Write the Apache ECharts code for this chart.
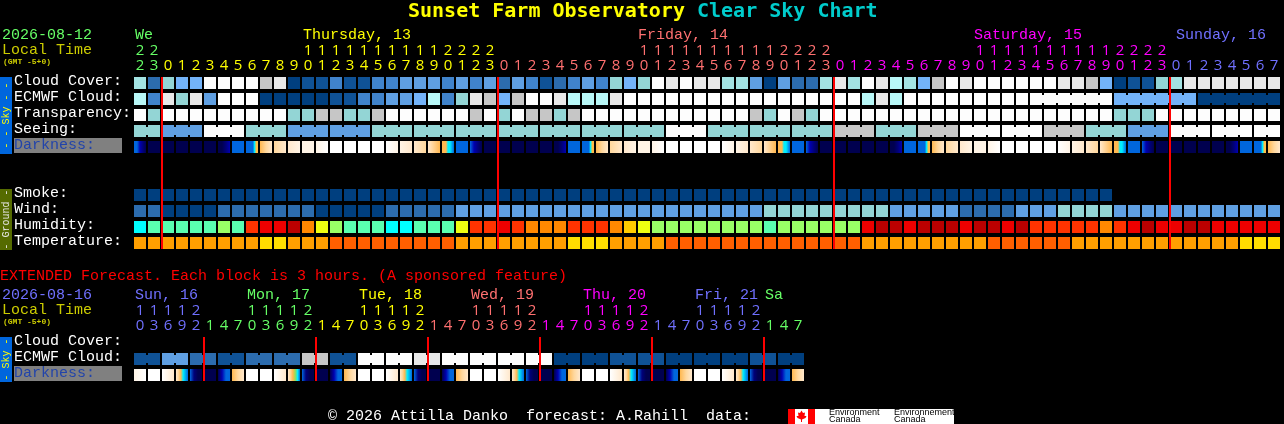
<!DOCTYPE html>
<html><head><meta charset="utf-8">
<style>html,body{margin:0;padding:0;background:#000;overflow:hidden}#c{width:1284px;height:424px}</style>
<script src="https://cdn.jsdelivr.net/npm/echarts@6/dist/echarts.min.js"></script>
</head><body><div id="c"></div>
<script>
// ---------- tick labels ----------
const hours = [22,23,0,1,2,3,4,5,6,7,8,9,10,11,12,13,14,15,16,17,18,19,20,21,22,23,0,1,2,3,4,5,6,7,8,9,10,11,12,13,14,15,16,17,18,19,20,21,22,23,0,1,2,3,4,5,6,7,8,9,10,11,12,13,14,15,16,17,18,19,20,21,22,23,0,1,2,3,4,5,6,7];
const hourDayIdx = [0,0,1,1,1,1,1,1,1,1,1,1,1,1,1,1,1,1,1,1,1,1,1,1,1,1,2,2,2,2,2,2,2,2,2,2,2,2,2,2,2,2,2,2,2,2,2,2,2,2,3,3,3,3,3,3,3,3,3,3,3,3,3,3,3,3,3,3,3,3,3,3,3,3,4,4,4,4,4,4,4,4];
const extHours = [10,13,16,19,22,1,4,7,10,13,16,19,22,1,4,7,10,13,16,19,22,1,4,7,10,13,16,19,22,1,4,7,10,13,16,19,22,1,4,7,10,13,16,19,22,1,4,7];
const extDayIdx = [4,4,4,4,4,0,0,0,0,0,0,0,0,1,1,1,1,1,1,1,1,2,2,2,2,2,2,2,2,3,3,3,3,3,3,3,3,4,4,4,4,4,4,4,4,0,0,0];
const dayColors = ['#66ff66','#ffff00','#ff7070','#ff00ff','#7070ff'];
const rowNames = ['Cloud Cover:','ECMWF Cloud:','Transparency:','Seeing:','Darkness:','','','Smoke:','Wind:','Humidity:','Temperature:'];
const extRowNames = ['Cloud Cover:','ECMWF Cloud:','Darkness:'];
const dayNames = ['We','Thursday, 13','Friday, 14','Saturday, 15','Sunday, 16'];
const extDayNames = ['Sun, 16','Mon, 17','Tue, 18','Wed, 19','Thu, 20','Fri, 21','Sa'];
const midnightCols = [2,26,50,74];
const extMidnightCols = [5,13,21,29,37,45];

// ---------- colour scales ----------
const skyScale = ['#003f7f','#0f5296','#2c6cae','#4083cb','#5f9fe2','#73b3f9','#93d5d5','#a3e3e3','#b8f8f8','#c6c6c6','#e8e8e8','#fdfdfd'];
const humidScale = ['#00ffff','#5affb0','#99ff66','#eeff11','#ffcc00','#ff8800','#ff3300','#ee0000','#bb0000'];
const tempScale = ['#ff5f00','#ff9f00','#ffdd00'];
const darkScale = ['#00004f','#00007a','#0000b0','#0040c8','#0066dd','#00aaee','#00eeff','#99dd55','#ffc040','#ffb850','#ffd79c','#ffe8cc','#fff4e6','#ffffff'];

// ---------- series values ----------
const cloudCover = [7,2,6,5,5,11,11,11,11,9,10,0,1,1,3,1,1,3,3,4,4,4,3,4,3,4,2,4,3,1,2,3,4,3,6,5,6,11,10,11,10,10,7,7,4,0,4,2,2,7,10,7,11,10,8,7,5,9,11,10,11,11,11,11,11,11,10,10,9,5,0,1,1,6,7,10,10,10,10,10,10,10];
const ecmwfCloud = [8,3,10,6,10,4,11,11,11,0,0,0,0,0,1,1,3,3,4,4,5,8,3,6,10,9,5,9,11,11,10,8,8,8,10,11,11,11,11,11,11,11,11,11,11,11,11,11,11,11,11,11,8,10,8,11,11,11,11,11,11,11,11,11,11,11,11,11,11,11,5,5,5,5,5,5,0,0,0,0,0,0];
const transparency = [11,6,11,11,11,11,11,11,11,11,11,6,6,9,9,6,6,9,11,11,11,11,11,11,9,11,6,11,9,9,6,9,11,11,11,11,11,11,11,11,11,11,11,11,9,6,11,9,6,11,11,11,11,11,11,11,11,11,11,11,11,11,11,11,11,11,11,11,11,11,6,6,6,11,11,11,11,11,11,11,11,11];
const seeing = [6,6,4,4,4,11,11,11,6,6,6,4,4,4,4,4,4,6,6,6,6,6,6,6,6,6,6,6,6,6,6,6,6,6,6,6,6,6,11,11,11,6,6,6,6,6,6,6,6,6,9,9,9,6,6,6,9,9,9,11,11,11,11,11,11,9,9,9,6,6,6,4,4,4,11,11,11,11,11,11,11,11];
const darkness = [
 '44210','0',
 '0','0','0','0','0012','4','44444689','9ab','ab','bc','c','cd','d','d','d','d','dc','cb','ba','b9','9996654','4','4210','0',
 '0','0','0','0','0012','4','44444689','9ab','ab','bc','c','cd','d','d','d','d','dc','cb','ba','b9','9996654','4','4210','0',
 '0','0','0','0','0012','4','44444689','9ab','ab','bc','c','cd','d','d','d','d','dc','cb','ba','b9','9996654','4','4210','0',
 '0','0','0','0','0012','4','44444689','9ab'];
const smoke = [0,0,0,0,0,0,0,0,0,0,0,0,0,0,0,0,0,0,0,0,0,0,0,0,0,0,0,0,0,0,0,0,0,0,0,0,0,0,0,0,0,0,0,0,0,0,0,0,0,0,0,0,0,0,0,0,0,0,0,0,0,0,0,0,0,0,0,0,0,0,null,null,null,null,null,null,null,null,null,null,null,null];
const wind = [2,2,0,0,0,0,2,2,2,2,2,2,2,0,0,0,0,0,2,2,2,2,2,4,4,4,4,4,4,4,4,4,4,4,4,4,4,4,4,4,4,4,4,4,4,6,6,6,6,6,6,6,6,6,4,4,4,4,4,2,2,2,2,4,4,4,6,6,6,6,4,4,4,4,4,4,4,4,4,4,4,4];
const humidity = [0,1,1,1,1,1,2,1,6,7,7,8,5,3,2,1,1,1,0,0,1,1,1,3,6,6,7,6,5,5,5,6,6,6,5,4,3,2,2,2,2,2,2,2,2,1,2,2,2,2,2,2,7,8,8,7,8,8,8,7,8,8,7,8,6,6,6,6,6,5,6,7,8,7,7,8,8,7,7,7,7,7];
const temperature = [1,1,1,1,1,1,1,1,1,2,2,1,1,1,0,0,0,0,0,0,0,0,0,1,1,1,1,1,1,1,1,2,2,2,1,1,1,1,0,0,0,0,0,0,0,0,0,0,0,0,0,0,1,1,1,1,1,1,1,1,1,0,0,0,0,0,0,1,1,1,1,1,1,1,1,1,1,1,1,2,2,2];
const extEcmwf = [1,1,4,4,2,2,1,1,2,2,2,2,9,9,1,1,11,11,11,11,10,10,11,11,11,11,11,11,11,11,0,0,0,0,1,1,1,1,0,0,0,0,0,0,1,1,0,0];
const extDarkness = [
 'cd','d','dcb','ba9654','4100','0','0244','9ab',
 'd','d','dcb','ba9764','4100','0','0244','9ab',
 'd','d','dcb','ba9654','4100','0','0244','9ab',
 'd','d','dcb','ba9654','4100','0','0244','9ab',
 'd','d','dcb','ba9654','4100','0','0244','9ab',
 'd','d','dcb','ba9654','4100','0','0244','9ab'];

// ---------- drawing helpers ----------
const MONO = '"Liberation Mono","DejaVu Sans Mono",monospace';
const NUM = '"Open Sans","Liberation Sans",sans-serif';
const SANS = '"Liberation Sans",sans-serif';

function cellGeom(api, col, row){
  const c = api.coord([col,row]);
  const s = api.size([1,1]);
  const w = s[0]-2, h = s[1]-4;
  return {x:c[0]-w/2, y:c[1]-h/2, w, h, gap:2, notch:2};
}
function rowSeries(gridIdx, name, row, values, scale, joinNext){
  return {
    type:'custom', name, xAxisIndex:gridIdx===0?0:3, yAxisIndex:gridIdx, coordinateSystem:'cartesian2d',
    silent:true, clip:false, z:2, encode:{x:0,y:1},
    data: values.map((v,i)=>[i,row]),
    renderItem(params, api){
      const i = params.dataIndex, v = values[i];
      if(v===null) return null;
      const g = cellGeom(api, i, row);
      const fill = scale[v];
      const kids = [{type:'rect',shape:{x:g.x,y:g.y,width:g.w,height:g.h},style:{fill},silent:true}];
      if(joinNext && joinNext(i) && i<values.length-1)
        kids.push({type:'rect',shape:{x:g.x+g.w,y:g.y+g.notch,width:g.gap,height:g.h-2*g.notch},style:{fill},silent:true});
      return {type:'group',children:kids};
    }
  };
}
function darkSeries(gridIdx, row, values){
  return {
    type:'custom', name:'Darkness', xAxisIndex:gridIdx===0?0:3, yAxisIndex:gridIdx, silent:true, clip:false, z:2,
    encode:{x:0,y:1}, data: values.map((v,i)=>[i,row]),
    renderItem(params, api){
      const s = values[params.dataIndex];
      const g = cellGeom(api, params.dataIndex, row);
      const cols = s.split('').map(ch=>darkScale[parseInt(ch,16)]);
      const fill = cols.length===1 ? cols[0] : new echarts.graphic.LinearGradient(0,0,1,0,
        cols.map((color,k)=>({offset:k/(cols.length-1),color})));
      return {type:'rect',shape:{x:g.x,y:g.y,width:g.w,height:g.h},style:{fill},silent:true};
    }
  };
}
function redLines(gridIdx, cols, firstRow, lastRow){
  return {
    type:'custom', name:'Midnight', xAxisIndex:gridIdx===0?0:3, yAxisIndex:gridIdx, silent:true, clip:false, z:5,
    encode:{x:0,y:1}, data: cols.map(c=>[c,firstRow]),
    renderItem(params, api){
      const c = cols[params.dataIndex];
      const a = cellGeom(api,c,firstRow), b = cellGeom(api,c,lastRow);
      return {type:'rect',shape:{x:a.x-1,y:a.y,width:2,height:b.y+b.h-a.y},style:{fill:'#ff0000'},silent:true};
    }
  };
}
function topAxis(gridIndex, labels, colors, margin){
  return {type:'category',gridIndex,position:'top',data:labels,boundaryGap:true,
    axisLine:{show:false},axisTick:{show:false},splitLine:{show:false},
    axisLabel:{show:true,interval:0,margin,fontFamily:NUM,fontSize:15,hideOverlap:false,
      color:(v,i)=>dayColors[colors[i]]}};
}
function leftAxis(gridIndex, names){
  return {type:'category',gridIndex,inverse:true,data:names,boundaryGap:true,
    axisLine:{show:false},axisTick:{show:false},splitLine:{show:false},
    axisLabel:{show:true,interval:0,margin:119,align:'left',fontFamily:MONO,fontSize:15,color:'#ffffff',
      padding:[0,0,3,0],
      formatter:v=>v==='Darkness:'?'{d|Darkness:}':v,
      rich:{d:{color:'#2244aa',backgroundColor:'#808080',width:108,height:15,lineHeight:15,fontFamily:MONO,fontSize:15}}}};
}
const ones = h=>String(h%10);
const tens = h=>h>=10?String(Math.floor(h/10)):'';

function txt(x,y,text,fill,size,extra){
  return {type:'text',x,y,silent:true,style:Object.assign({text,fill,fontFamily:MONO,fontSize:size,verticalAlign:'middle'},extra||{})};
}
function rotTxt(cx,cy,text,fill){
  return {type:'text',x:cx,y:cy,rotation:Math.PI/2,silent:true,
    style:{text,fill,fontFamily:MONO,fontSize:10,align:'center',verticalAlign:'middle'}};
}
const graphics = [
  // title
  {type:'text',x:408,y:12,silent:true,style:{text:'{a|Sunset Farm Observatory }{b|Clear Sky Chart}',verticalAlign:'middle',
    rich:{a:{fill:'#ffff00',fontFamily:'"DejaVu Sans Mono"',fontWeight:'bold',fontSize:20},b:{fill:'#00cccc',fontFamily:'"DejaVu Sans Mono"',fontWeight:'bold',fontSize:20}}}},
  // headers
  txt(2,35,'2026-08-12','#66ff66',15),
  txt(2,50,'Local Time','#cccc00',15),
  txt(3,62,'(GMT -5+0)','#cccc00',8,{fontWeight:'bold'}),
  txt(135,35,dayNames[0],dayColors[0],15),
  txt(303,35,dayNames[1],dayColors[1],15),
  txt(638,35,dayNames[2],dayColors[2],15),
  txt(974,35,dayNames[3],dayColors[3],15),
  txt(1176,35,dayNames[4],dayColors[4],15),
  txt(0,276,'EXTENDED Forecast. Each block is 3 hours. (A sponsored feature)','#ff0000',15),
  txt(2,295,'2026-08-16','#7070ff',15),
  txt(2,310,'Local Time','#cccc00',15),
  txt(3,322,'(GMT -5+0)','#cccc00',8,{fontWeight:'bold'}),
  txt(135,295,extDayNames[0],dayColors[4],15),
  txt(247,295,extDayNames[1],dayColors[0],15),
  txt(359,295,extDayNames[2],dayColors[1],15),
  txt(471,295,extDayNames[3],dayColors[2],15),
  txt(583,295,extDayNames[4],dayColors[3],15),
  txt(695,295,extDayNames[5],dayColors[4],15),
  txt(765,295,extDayNames[6],dayColors[0],15),
  // side tabs
  {type:'rect',shape:{x:0,y:77,width:12,height:77},style:{fill:'#0066dd'},silent:true},
  rotTxt(6,115.5,'- - Sky - -','#ffff00'),
  {type:'rect',shape:{x:0,y:189,width:12,height:61},style:{fill:'#556b00'},silent:true},
  rotTxt(6,219.5,'- Ground -','#e8e8e8'),
  {type:'rect',shape:{x:0,y:337,width:12,height:45},style:{fill:'#0066dd'},silent:true},
  rotTxt(6,359.5,'- Sky -','#ffff00'),
  // footer
  txt(328,416,'\u00a9 2026 Attilla Danko  forecast: A.Rahill  data:','#ffffff',15),
  {type:'rect',shape:{x:788,y:409,width:166,height:15},style:{fill:'#ffffff'},silent:true},
  {type:'rect',shape:{x:788,y:409,width:7,height:15},style:{fill:'#ff0000'},silent:true},
  {type:'rect',shape:{x:808,y:409,width:7,height:15},style:{fill:'#ff0000'},silent:true},
  {type:'polygon',shape:{points:[[801.5,410.5],[803,413],[805,412.5],[804.5,416],[806.5,416],[805.5,418],[802,419.5],[802,422],[801,422],[801,419.5],[797.5,418],[796.5,416],[798.5,416],[798,412.5],[800,413]]},style:{fill:'#ff0000'},silent:true},
  {type:'text',x:829,y:413,silent:true,style:{text:'Environment',fill:'#000',fontFamily:SANS,fontSize:9,verticalAlign:'middle'}},
  {type:'text',x:829,y:420,silent:true,style:{text:'Canada',fill:'#000',fontFamily:SANS,fontSize:9,verticalAlign:'middle'}},
  {type:'text',x:894,y:413,silent:true,style:{text:'Environnement',fill:'#000',fontFamily:SANS,fontSize:9,verticalAlign:'middle'}},
  {type:'text',x:894,y:420,silent:true,style:{text:'Canada',fill:'#000',fontFamily:SANS,fontSize:9,verticalAlign:'middle'}}
];

const seeingJoin = i=>(i+1)%3!==2;
const ecmwfJoin = i=>i>=64 && (i+1-64)%6!==0;
const extJoin = i=>i%2===0;

const option = {
  animation:false, backgroundColor:'#000000',
  grid:[{left:133,top:75,width:82*14,height:11*16},{left:133,top:335,width:48*14,height:3*16}],
  xAxis:[
    topAxis(0,hours.map(ones),hourDayIdx,2),
    topAxis(0,hours.map(tens),hourDayIdx,17),
    {type:'category',gridIndex:0,show:false,data:hours.map(ones)},
    topAxis(1,extHours.map(ones),extDayIdx,2),
    topAxis(1,extHours.map(tens),extDayIdx,17)
  ],
  yAxis:[leftAxis(0,rowNames),leftAxis(1,extRowNames)],
  graphic:graphics,
  series:[
    rowSeries(0,'Cloud Cover',0,cloudCover,skyScale),
    rowSeries(0,'ECMWF Cloud',1,ecmwfCloud,skyScale,ecmwfJoin),
    rowSeries(0,'Transparency',2,transparency,skyScale),
    rowSeries(0,'Seeing',3,seeing,skyScale,seeingJoin),
    darkSeries(0,4,darkness),
    rowSeries(0,'Smoke',7,smoke,skyScale),
    rowSeries(0,'Wind',8,wind,skyScale),
    rowSeries(0,'Humidity',9,humidity,humidScale),
    rowSeries(0,'Temperature',10,temperature,tempScale),
    redLines(0,midnightCols,0,10),
    rowSeries(1,'ECMWF Cloud',1,extEcmwf,skyScale,extJoin),
    darkSeries(1,2,extDarkness),
    redLines(1,extMidnightCols,0,2)
  ]
};
const chart = echarts.init(document.getElementById('c'),null,{renderer:'canvas',width:1284,height:424});
chart.setOption(option);
</script></body></html>
